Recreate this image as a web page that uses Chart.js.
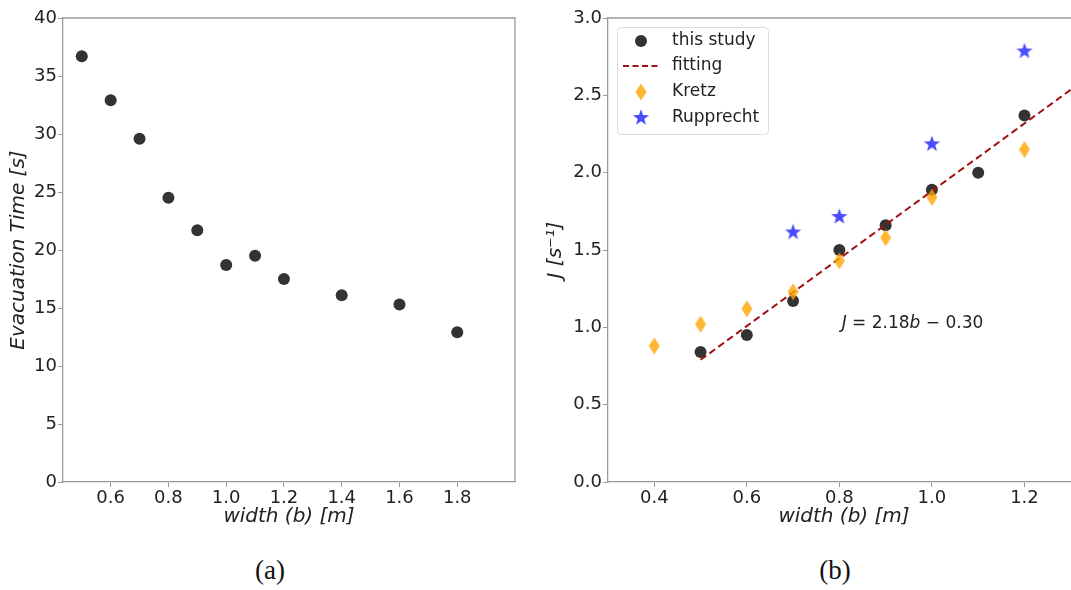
<!DOCTYPE html>
<html lang="en">
  <head>
    <meta charset="UTF-8" />
    <script src="https://cdn.jsdelivr.net/npm/chart.js@4/dist/chart.umd.min.js"></script>
    <title>Evacuation time and flow</title>
    <style>
      body { margin: 0; background: #fff; width: 1071px; height: 590px; overflow: hidden; position: relative; }
      #left { position: absolute; left: 0; top: 0; }
      #right { position: absolute; left: 540px; top: 0; }
      .cap { position: absolute; top: 555px; width: 100px; text-align: center; font-family: "Liberation Serif", serif; font-size: 27px; color: #111; }
    </style>
  </head>
  <body>
    <canvas id="left" width="530" height="532"></canvas>
    <canvas id="right" width="546" height="532"></canvas>
    <div class="cap" style="left:220px">(a)</div>
    <div class="cap" style="left:785px">(b)</div>

    <script>
      // (a) evacuation time vs width
      var widthA = [0.5, 0.6, 0.7, 0.8, 0.9, 1.0, 1.1, 1.2, 1.4, 1.6, 1.8];
      var evacTime = [36.7, 32.9, 29.6, 24.5, 21.7, 18.7, 19.5, 17.5, 16.1, 15.3, 12.9];
      var ticksXA = [0.6, 0.8, 1.0, 1.2, 1.4, 1.6, 1.8];

      // (b) flow J vs width
      var widthStudy = [0.5, 0.6, 0.7, 0.8, 0.9, 1.0, 1.1, 1.2];
      var flowStudy = [0.84, 0.95, 1.17, 1.5, 1.66, 1.89, 2.0, 2.37];
      var widthKretz = [0.4, 0.5, 0.6, 0.7, 0.8, 0.9, 1.0, 1.2];
      var flowKretz = [0.88, 1.02, 1.12, 1.23, 1.43, 1.58, 1.84, 2.15];
      var widthRupp = [0.7, 0.8, 1.0, 1.2];
      var flowRupp = [1.62, 1.72, 2.19, 2.79];
      var widthFit = [0.5, 1.32];
      var flowFit = [0.79, 2.58];
      var ticksXB = [0.4, 0.6, 0.8, 1.0, 1.2];
      var fitLabel = ["J", " = 2.18", "b", " \u2212 0.30"];

      var dotColor = "#333333";
      var kretzColor = "rgba(255,165,0,0.8)";
      var ruppColor = "rgba(0,0,255,0.7)";
      var fitColor = "#a01010";
      var axisColor = "#9a9a9a";
      var txtColor = "#222";

      function pts(xs, ys) {
        var out = [];
        for (var i = 0; i < xs.length; i++) out.push({ x: xs[i], y: ys[i] });
        return out;
      }

      // thin diamond marker like matplotlib 'd'
      function diamond() {
        var c = document.createElement("canvas");
        c.width = 12; c.height = 18;
        var g = c.getContext("2d");
        g.fillStyle = kretzColor;
        g.beginPath();
        g.moveTo(6, 0.5); g.lineTo(11.5, 9); g.lineTo(6, 17.5); g.lineTo(0.5, 9);
        g.closePath(); g.fill();
        return c;
      }

      // filled 5-point star
      function star() {
        var c = document.createElement("canvas");
        c.width = 18; c.height = 18;
        var g = c.getContext("2d");
        g.fillStyle = ruppColor;
        g.beginPath();
        for (var i = 0; i < 10; i++) {
          var r = i % 2 == 0 ? 8.5 : 3.5;
          var a = -Math.PI / 2 + i * Math.PI / 5;
          var px = 9 + r * Math.cos(a), py = 9.8 + r * Math.sin(a);
          if (i == 0) g.moveTo(px, py); else g.lineTo(px, py);
        }
        g.closePath(); g.fill();
        return c;
      }
      var diamondImg = diamond();
      var starImg = star();

      function fixTicks(vals) {
        return function (axis) {
          axis.ticks = vals.map(function (v) { return { value: v }; });
        };
      }

      function xScale(min, max, vals, h) {
        return {
          type: "linear", min: min, max: max,
          afterBuildTicks: fixTicks(vals),
          afterFit: function (a) { a.height = h; },
          grid: { drawOnChartArea: false, drawTicks: true, tickLength: 5, color: axisColor },
          border: { color: axisColor, width: 1.3 },
          ticks: { color: txtColor, padding: 1, font: { family: "DejaVu Sans", size: 18 }, callback: function (v) { return v.toFixed(1); } },
          title: { display: true, text: "width (b) [m]", color: txtColor, padding: { top: 0, bottom: 3 }, font: { family: "DejaVu Sans", size: 20, style: "italic" } }
        };
      }

      function yScale(min, max, step, w, title, pt, dec) {
        return {
          type: "linear", min: min, max: max,
          afterFit: function (a) { a.width = w; },
          grid: { drawOnChartArea: false, drawTicks: true, tickLength: 5, color: axisColor },
          border: { color: axisColor, width: 1.3 },
          ticks: { stepSize: step, color: txtColor, padding: 1, font: { family: "DejaVu Sans", size: 18 }, callback: function (v) { return v.toFixed(dec); } },
          title: { display: true, text: title, color: txtColor, padding: { top: pt, bottom: 0 }, font: { family: "DejaVu Sans", size: 20, style: "italic" } }
        };
      }

      // top and right spines
      var frame = {
        id: "frame",
        afterDraw: function (chart) {
          var a = chart.chartArea, ctx = chart.ctx;
          ctx.save();
          ctx.strokeStyle = axisColor;
          ctx.lineWidth = 1.3;
          ctx.beginPath();
          ctx.moveTo(a.left, a.top); ctx.lineTo(a.right, a.top); ctx.lineTo(a.right, a.bottom);
          ctx.stroke();
          ctx.restore();
        }
      };

      new Chart(document.getElementById("left"), {
        type: "scatter",
        data: {
          datasets: [{
            label: "this study",
            data: pts(widthA, evacTime),
            pointRadius: 6, pointBorderWidth: 0,
            backgroundColor: dotColor, borderColor: dotColor
          }]
        },
        options: {
          responsive: false, animation: false,
          layout: { padding: { top: 18, right: 15, bottom: 0, left: 0 } },
          plugins: { legend: { display: false }, tooltip: { enabled: false } },
          scales: {
            x: xScale(0.435, 2.0, ticksXA, 50),
            y: yScale(0, 40, 5, 63, "Evacuation Time [s]", 7, 0)
          }
        },
        plugins: [frame]
      });

      // legend box and fit equation for (b)
      var extras = {
        id: "extras",
        afterDraw: function (chart) {
          var a = chart.chartArea, ctx = chart.ctx;
          ctx.save();
          // fit equation
          var px = chart.scales.x.getPixelForValue(0.805);
          var py = chart.scales.y.getPixelForValue(0.995);
          ctx.fillStyle = txtColor;
          ctx.textBaseline = "alphabetic";
          var xx = px;
          for (var i = 0; i < fitLabel.length; i++) {
            ctx.font = (i % 2 == 0 ? "italic " : "") + "17px 'DejaVu Sans'";
            ctx.fillText(fitLabel[i], xx, py);
            xx += ctx.measureText(fitLabel[i]).width;
          }

          // legend
          var bx = a.left + 9, by = a.top + 9, bw = 151, bh = 107;
          ctx.fillStyle = "rgba(255,255,255,0.8)";
          ctx.strokeStyle = "#dcdcdc";
          ctx.lineWidth = 1;
          ctx.beginPath();
          ctx.roundRect(bx + 0.5, by + 0.5, bw, bh, 4);
          ctx.fill(); ctx.stroke();

          var mx = a.left + 33, tx = a.left + 64;
          var rows = [by + 14, by + 39, by + 65, by + 91];
          var names = chart.data.datasets.map(function (d) { return d.label; });

          ctx.fillStyle = dotColor;
          ctx.beginPath(); ctx.arc(mx, rows[0], 6, 0, Math.PI * 2); ctx.fill();

          ctx.strokeStyle = fitColor; ctx.lineWidth = 2; ctx.setLineDash([6, 3.5]);
          ctx.beginPath(); ctx.moveTo(mx - 18, rows[1]); ctx.lineTo(mx + 17, rows[1]); ctx.stroke();
          ctx.setLineDash([]);

          ctx.drawImage(diamondImg, mx - 6, rows[2] - 9);
          ctx.drawImage(starImg, mx - 9, rows[3] - 10);

          ctx.fillStyle = txtColor;
          ctx.font = "17px 'DejaVu Sans'";
          ctx.textBaseline = "middle";
          for (var j = 0; j < 4; j++) ctx.fillText(names[j], tx, rows[j]);
          ctx.restore();
        }
      };

      new Chart(document.getElementById("right"), {
        type: "scatter",
        data: {
          datasets: [
            {
              label: "this study",
              data: pts(widthStudy, flowStudy),
              order: 4,
              pointRadius: 6, pointBorderWidth: 0,
              backgroundColor: dotColor, borderColor: dotColor
            },
            {
              label: "fitting",
              data: pts(widthFit, flowFit),
              order: 3,
              showLine: true, pointRadius: 0,
              borderColor: fitColor, borderWidth: 2, borderDash: [7, 4]
            },
            {
              label: "Kretz",
              data: pts(widthKretz, flowKretz),
              order: 2,
              pointStyle: diamondImg,
              backgroundColor: kretzColor, borderColor: kretzColor
            },
            {
              label: "Rupprecht",
              data: pts(widthRupp, flowRupp),
              order: 1,
              pointStyle: starImg,
              backgroundColor: ruppColor, borderColor: ruppColor
            }
          ]
        },
        options: {
          responsive: false, animation: false,
          layout: { padding: { top: 18, right: 0, bottom: 0, left: 0 } },
          plugins: { legend: { display: false }, tooltip: { enabled: false } },
          scales: {
            x: xScale(0.3, 1.32, ticksXB, 50),
            y: yScale(0, 3, 0.5, 68, "J [s\u207B\u00B9]", 4, 1)
          }
        },
        plugins: [frame, extras]
      });
    </script>
  </body>
</html>
